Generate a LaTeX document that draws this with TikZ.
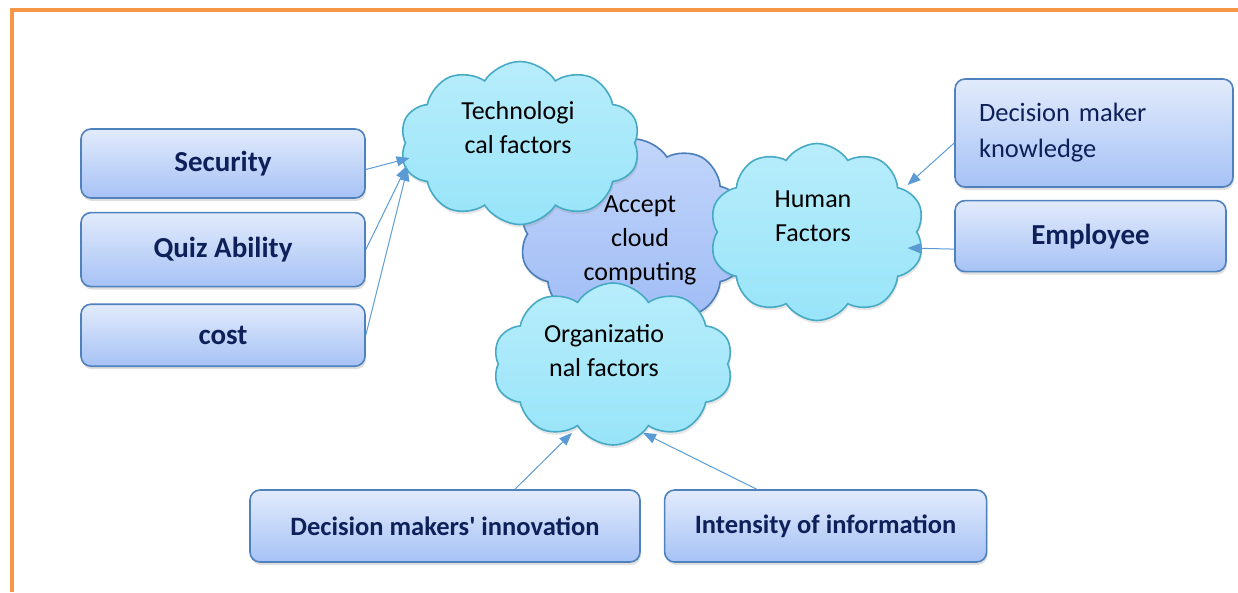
\documentclass[tikz,border=0pt]{standalone}
\usepackage{fontspec}
\setmainfont{Carlito}
\usetikzlibrary{positioning}
\usetikzlibrary{shapes.symbols,shadows,arrows.meta}
\definecolor{frameorange}{HTML}{F79646}
\definecolor{boxtop}{HTML}{E2EBFC}
\definecolor{boxbot}{HTML}{A6C2F5}
\definecolor{boxline}{HTML}{4F81BD}
\definecolor{boxtext}{HTML}{0D2059}
\definecolor{cloudtop}{HTML}{B8EDFB}
\definecolor{cloudbot}{HTML}{98E4F9}
\definecolor{cloudline}{HTML}{46AAC5}
\definecolor{accepttop}{HTML}{C2D6FB}
\definecolor{acceptbot}{HTML}{9EBBF5}
\definecolor{acceptline}{HTML}{4A7EBB}
\definecolor{arrowblue}{HTML}{5B9BD5}
\tikzset{
  factor/.style={draw=boxline, line width=1.6pt, rounded corners=10pt, inner sep=0pt,
    top color=boxtop, bottom color=boxbot, text=boxtext,
    font=\fontsize{29}{34}\selectfont\bfseries,
    drop shadow={opacity=0.25, shadow xshift=1pt, shadow yshift=-3pt}},
  group/.style={cloud, cloud puffs=10, cloud puff arc=115, cloud ignores aspect, inner sep=0pt,
    draw=cloudline, line width=1.6pt, top color=cloudtop, bottom color=cloudbot,
    drop shadow={opacity=0.2, shadow xshift=1pt, shadow yshift=-3pt}},
  grouptext/.style={font=\fontsize{26}{34}\selectfont, align=center, text=black},
  feed/.style={draw=arrowblue, line width=1pt, -{Triangle[length=13pt,width=10pt]}}
}
\begin{document}
\begin{tikzpicture}[x=1pt,y=-1pt]
  \useasboundingbox (0,0) rectangle (1238,592);
  \draw [frameorange, line width=4pt] (12,592) -- (12,10) -- (1238,10);

  \node [group, draw=acceptline, top color=accepttop, bottom color=acceptbot,
    minimum width=230pt, minimum height=190pt,
    label={[grouptext, xshift=6pt, yshift=-6pt]center:{Accept\\cloud\\computing}}] (accept) at (634,234) {};
  \node [group, minimum width=240pt, minimum height=163pt,
    label={[grouptext, yshift=15pt, xshift=-2pt]center:{Technologi\\cal factors}}] (tech) at (520,143) {};
  \node [group, minimum width=215pt, minimum height=177pt,
    label={[grouptext, yshift=16pt, xshift=-4pt]center:{Human\\Factors}}] (human) at (817,232) {};
  \node [group, minimum width=240pt, minimum height=162pt,
    label={[grouptext, yshift=13pt, xshift=-9pt]center:{Organizatio\\nal factors}}] (org) at (613,364) {};

  \node [factor, minimum width=284pt, minimum height=69pt] (sec) at (223,163.5) {Security};
  \node [factor, minimum width=284pt, minimum height=74pt, below=13pt of sec] (quiz) {Quiz Ability};
  \node [factor, minimum width=284pt, minimum height=62pt, below=16pt of quiz] (cost) {cost};

  \node [factor, minimum width=278pt, minimum height=108pt, text width=230pt, align=left,
    font=\fontsize{26.5}{36}\selectfont] (dmk) at (1094,133) {Decision maker\\knowledge};
  \node [factor, minimum width=271pt, minimum height=71pt, below=12pt of dmk.south west,
    anchor=north west] (emp) {Employee};

  \node [factor, minimum width=390pt, minimum height=72pt, font=\fontsize{26.5}{32}\selectfont\bfseries]
    (dmi) at (445,526) {Decision makers\textquotesingle{} innovation};
  \node [factor, minimum width=322pt, minimum height=72pt, font=\fontsize{26.5}{32}\selectfont\bfseries,
    right=23pt of dmi] (info) {Intensity of information};

  \draw [feed] ([shift={(0,6)}] sec.east) -- ([shift={(5,15)}] tech.west);
  \draw [feed] (quiz.east) -- ([shift={(2,23)}] tech.west);
  \draw [feed] (cost.east) -- ([shift={(3,25)}] tech.west);
  \draw [feed] ([shift={(0,10)}] dmk.west) -- ([shift={(-10,-47)}] human.east);
  \draw [feed] ([shift={(0,13)}] emp.west) -- ([shift={(-10,16)}] human.east);
  \draw [feed] ([shift={(70,0)}] dmi.north) -- ([shift={(-41,-13)}] org.south);
  \draw [feed] ([shift={(-69,0)}] info.north) -- ([shift={(30,-13)}] org.south);
\end{tikzpicture}
\end{document}
